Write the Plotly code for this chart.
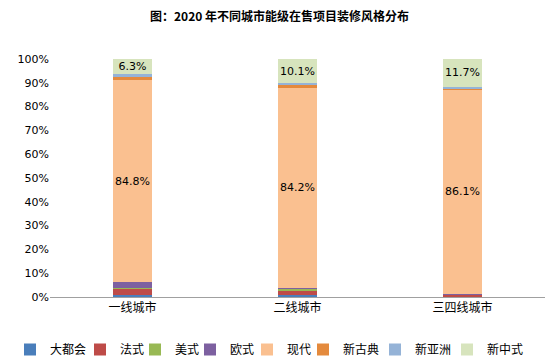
import plotly.graph_objects as go

categories = ["一线城市", "二线城市", "三四线城市"]
series_names = ["大都会", "法式", "美式", "欧式", "现代", "新古典", "新亚洲", "新中式"]
v_dadouhui = [0.9, 1.0, 0.3]
v_fashi = [2.6, 1.9, 0.7]
v_meishi = [0.2, 0.5, 0.1]
v_oushi = [2.6, 0.5, 0.1]
v_xiandai = [84.8, 84.2, 86.1]
v_xingudian = [1.2, 0.8, 0.3]
v_xinyazhou = [1.4, 1.0, 0.7]
v_xinzhongshi = [6.3, 10.1, 11.7]
y_ticks = [0, 10, 20, 30, 40, 50, 60, 70, 80, 90, 100]
y_tick_labels = [f"{t}%" for t in y_ticks]

values = [v_dadouhui, v_fashi, v_meishi, v_oushi, v_xiandai, v_xingudian, v_xinyazhou, v_xinzhongshi]
colors = ["#4A7EBB", "#BE4B48", "#98B954", "#7D60A0", "#FAC090", "#E48A3D", "#95B3D7", "#D7E4BD"]
labeled = {"现代", "新中式"}

# legend entry left edges in pixels (layout only)
W, H = 559, 362
ML, MR, MT, MB = 50, 14, 59, 65
PW, PH = W - ML - MR, H - MT - MB
legend_left_px = [10, 80, 135, 190, 247, 303, 375, 447]
legend_top_px = 335

fig = go.Figure()
legend_layouts = {}
for i, (name, vals, col) in enumerate(zip(series_names, values, colors)):
    show = name in labeled
    lg = "legend" if i == 0 else f"legend{i + 1}"
    fig.add_trace(go.Bar(
        x=categories, y=vals, name=name, marker_color=col, marker_line_width=0,
        text=[f"{v:.1f}%" for v in vals] if show else None,
        textposition="inside" if show else "none",
        insidetextanchor="middle",
        textangle=0,
        textfont=dict(size=11, color="#000000"),
        hoverinfo="skip",
        legend=lg,
    ))
    legend_layouts[lg] = dict(
        orientation="h",
        x=(legend_left_px[i] - ML) / PW, xanchor="left",
        y=-(legend_top_px - (H - MB)) / PH, yanchor="top",
        font=dict(size=12, family="Noto Sans CJK SC"),
        itemwidth=30, bgcolor="rgba(0,0,0,0)",
    )

fig.update_layout(
    barmode="stack",
    bargap=0.76,
    width=W, height=H,
    margin=dict(l=ML, r=MR, t=MT, b=MB, autoexpand=False),
    paper_bgcolor="white", plot_bgcolor="white",
    font=dict(family="DejaVu Sans, Noto Sans CJK SC", size=11, color="#000000"),
    uniformtext=dict(minsize=11, mode="show"),
    title=dict(text="<b>图：2020 年不同城市能级在售项目装修风格分布</b>",
               x=0.5, xanchor="center", y=0.953, yanchor="middle",
               font=dict(size=12, family="Noto Sans CJK SC, DejaVu Sans")),
    showlegend=True,
    **legend_layouts,
)
fig.update_yaxes(range=[0, 100], tickvals=y_ticks, ticktext=y_tick_labels, showgrid=False,
                 zeroline=False, showline=False, ticks="", tickfont=dict(size=11))
fig.update_xaxes(showline=True, linecolor="#A0A0A0", linewidth=1, ticks="",
                 tickfont=dict(size=12, family="Noto Sans CJK SC"))

fig.write_html("out.html", config={"displayModeBar": False},
               post_script="document.body.style.margin='0';document.body.style.padding='0';")
